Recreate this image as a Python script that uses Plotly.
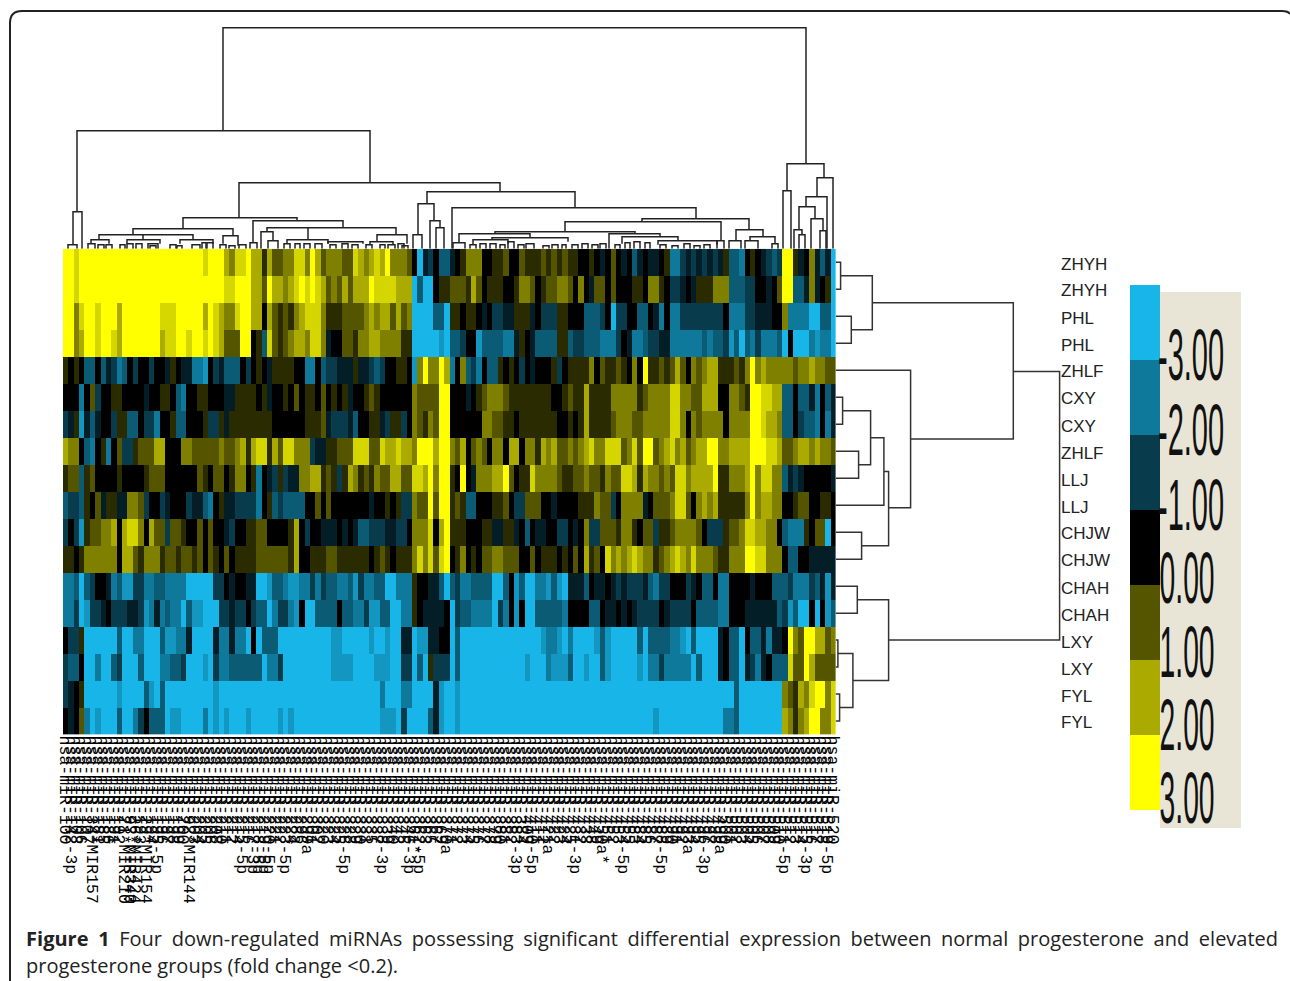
import plotly.graph_objects as go

# ---- expression values, one string per sample row; codes are half steps
code_values = {"0": 0, "1": .5, "2": 1, "3": 1.5, "4": 2, "5": 2.5, "6": 3,
               "a": -.5, "b": -1, "c": -1.5, "d": -2, "e": -2.5, "f": -3}
row_01 = "6656666666 6666666666 6666665666 4355644142 2335536423 3322543454 633320fab0 cca0133300 1120021112 1212110010 a020a0ca0a a01ddbabab aba1ccd010 abcb661a03 acaf"
row_02 = "6656666666 6666666666 6666666666 5566644264 4345656542 3242444655 55444fcff0 1122214201 1100133201 22332030a2 2020001103 310bba0a11 1333cccbb0 0a0266cca3 a01f"
row_03 = "6635665666 4666666655 5666664654 3356644042 1213455531 1122223434 42423ffffc cf110110a0 bbaa111a0b bb11000ccc b0fbb00cc0 ad0ddbbbbb bbb0dddbba aa003ddddf fccf"
row_04 = "6634665665 4666666645 5665665654 2226601c52 123443553a 0022133443 33311fffff efccb00ecc ccdda10acc cc11cbbccc dddb0addcb baaddddddc dccbecfcdb dddcf0fffd eddf"
row_05 = "1010cc0cab dc0b00b00a 10aadde0ba ccc0b010a1 11100dd0cb baaa1aabcb 00110e3633 64d03cbd0c c1010b0a00 01b0111130 2112103061 1212420323 4411121363 4333332334 3322"
row_06 = "000d02b001 10000a0011 0cd0011000 aa111101a0 0102011020 101a001210 0000032222 66000a0123 3321111111 1001211411 1133333123 3335533224 4400332166 5544cc0cca d0ca"
row_07 = "ba1eaca00b 11cc0bbd00 1cc0001bb1 a111111110 000001112a bbbac0011a b11b032132 6600000033 2211011111 1100101411 1123332233 3335530323 3330333366 5443cc0bcc d0da"
row_08 = "4330cd01d0 2bb1222440 0033222223 2234145514 255333baa1 1222555225 4454436664 6632402320 3304403314 3422323453 3555235266 2345342344 6633444466 6554223443 4332"
row_09 = "122c120000 1000012220 0000021022 013301d0ab 1baa334412 1b14312132 2442255463 661060a333 4462011533 3321122322 1322554143 3232553444 4611333463 5533caba00 000a"
row_10 = "cbbc102a11 aa332b00ba 000baacd01 aabbbbd01c bcccc00202 0000000a00 101bb32262 66121cc000 1120bb2220 0a00001113 22b03333a0 2223552034 3411111363 4433001220 0110"
row_11 = "b0be122334 045530422b 2210020200 ab00112200 00140b00aa a0a0accbbb aabb033350 4611100011 aa11a0c0aa 00bb0a03bb 2221331022 b112333320 bbb1223554 4330cddd10 22f0"
row_12 = "1101333333 0442133312 2122120210 2011112222 2214001112 2111111012 1011135352 5601301022 3322200201 1101020412 0534345433 1234543533 3211333665 53330cc00a aaaa"
row_13 = "ddcfcb00ad ceebbddccd dddfffffbb 0a00aaffec cdeeddbdbc cddcebddcc ffddd100aa cfcbddcccc ffc0ecffdd ecefaaac0a a0ababbbac dbb000ba0c c0dd0000a0 00cccbdddb caea"
row_14 = "ddbfebba0b bbaabedadc ddfceefffb babb0bccfd bbde0ffccc c0ccddbeec cffdd10aaa a0fbccdddd fbd0e0ffcc cccd0000cc 0aa0a0abbb b0abbbb0cc ccdd000aaa aaacbecff0 f0ec"
row_15 = "0bb1ffffff cffddfffce eddaffffad daddf0fccc ffffffffff eefffffeff effaafeeaa 00fcffffff fffffffffe ddefdffffe cefffffcfc cccddefcff ffa0ccf0cc adaa063266 4423"
row_16 = "bcc0ffdffc bfffcfffdd ccbfffefbd dccccccfdd bfffffffff eeeeffffee effbbfcf1b bbfcffffff ffffffefff deeecffeff cefffffefd dbdddddfcf ffa0ccfabd a0ccc52264 2222"
row_17 = "ba01ffffff effffcefcf ffffffffef ffffffffff ffffffffff fffffffffd fffddffffa effeffffff ffffffffff ffffffffff ffffffffff ffffffffff fffffcffff ffff321435 6635"
row_18 = "0a02dfefff cffdb0cccf eeffffdfef efffefffff efefffffff fffffffffe eefbffffca effeffffff ffffffffff ffffffffff ffffffffff efffffffff fffddcffff ffff431346 6335"
expression_rows = [row_01, row_02, row_03, row_04, row_05, row_06, row_07, row_08, row_09,
                   row_10, row_11, row_12, row_13, row_14, row_15, row_16, row_17, row_18]

sample_labels = ["ZHYH", "ZHYH", "PHL", "PHL", "ZHLF", "CXY", "CXY", "ZHLF", "LLJ", "LLJ",
                 "CHJW", "CHJW", "CHAH", "CHAH", "LXY", "LXY", "FYL", "FYL"]

# miRNA names along the bottom (most are overprinted and could only be estimated)
mirna_ids = [
 "100", "142-3p", "103", "106", "107", "34*MIR157", "181", "185", "186", "191",
 "192", "21*MIR210", "93*MIR340", "26*MIR424", "193", "29*MIR154", "194", "195-5p", "196", "197",
 "198", "199", "200", "92*MIR144", "203", "204", "205", "206", "208", "210",
 "211", "212", "214", "215-5p", "216", "217-3p", "218-5p", "219-5p", "220-5p", "221",
 "222", "223-5p", "224", "28a", "296", "299a", "301", "302", "320", "323",
 "324", "325", "326-5p", "328", "329", "330", "331", "335", "337", "338-3p",
 "339", "340", "342", "345", "346-3p", "361*", "362-5p", "363", "365", "367",
 "369", "370a", "371", "372", "373", "374", "375", "376", "377", "378",
 "379", "380", "381", "382", "383-3p", "384", "409", "410-5p", "411", "412",
 "421a", "422", "423", "424", "425", "431-3p", "432", "433", "448", "449",
 "450a*", "451", "452", "453", "454-5p", "455", "483", "484", "485", "486",
 "487", "488-5p", "489", "490", "491", "492", "493a", "494", "495", "496-3p",
 "497", "498", "499a", "500", "501", "502", "503", "504", "505", "506",
 "507", "508", "509", "510", "511-5p", "512", "513", "514", "515-3p", "516",
 "517", "518", "519-5p", "520",
]
mirna_prefix = "hsa-miR-"

# dendrogram over the columns: x left, x right, height of left leg, height of right leg, top
column_links = [
 (223,806,118,85,221),(77,370,37,66,118),(73,82,4,0,37),(68,77,0,0,4),(239,500,31,57,66),
 (183,297,20,28,31),(133,233,14,13,20),(99,193,9,9,14),(91,109,5,5,9),(143,143,9,9,14),
 (127,160,5,5,9),(180,213,5,5,9),(223,238,5,3,13),(253,343,6,21,28),(250,257,0,0,6),
 (267,396,17,14,21),(308,308,9,9,21),(261,273,0,8,17),(268,278,0,0,8),(287,328,5,5,9),
 (328,363,5,5,7),(377,407,7,5,14),(370,393,4,4,7),
 (427,575,45,41,57),(418,434,14,28,45),(413,422,0,0,14),(430,440,0,21,28),(436,444,0,0,21),
 (452,696,0,30,41),(642,749,27,19,30),(565,721,17,8,27),(717,724,0,0,8),(495,635,15,15,17),
 (459,530,6,11,15),(453,465,0,0,6),(492,568,9,7,11),(473,508,4,5,9),(609,660,0,12,15),
 (622,678,5,8,12),(658,717,4,4,8),(736,763,8,12,19),(729,741,0,0,8),(750,775,8,5,12),
 (745,758,0,0,8),(772,778,0,0,5),(787,824,58,71,85),(783,791,0,0,58),(817,833,52,0,71),
 (806,827,42,0,52),(799,815,19,30,42),(794,802,0,14,19),(799,805,0,0,14),(811,823,0,18,30),
 (820,826,0,0,18),
]
# small clusters just above the heat map: x left, x right, height
column_arcs = [
 (88,95,5),(98,104,4),(106,112,4),(120,125,4),(127,133,5),(136,142,5),(148,158,5),(150,156,3),
 (170,176,4),(177,182,3),(192,200,4),(202,206,6),(207,213,6),(220,226,4),(229,235,3),(239,246,4),
 (284,290,5),(295,300,5),(304,310,5),(315,322,5),(330,336,4),(342,348,5),(352,358,4),(366,372,4),
 (380,385,4),(388,395,4),(398,404,5),(402,408,3),
 (470,476,4),(480,486,5),(490,496,5),(500,505,4),(508,514,7),(518,524,4),(526,534,5),(543,549,3),
 (552,558,4),(562,566,4),(572,578,4),(582,588,5),(592,598,4),(600,606,5),(615,620,4),(625,630,6),
 (634,640,7),(645,650,6),(660,666,4),(672,678,3),(684,690,5),(694,700,3),(704,710,4),
]
# dendrogram beside the rows: row of upper child, row of lower child, upper leg, lower leg, distance
row_links = [
 (0,1,0,0,5),(2,3,0,0,15.7),(.5,2.5,5,15.7,36.7),(5,6,0,0,7),(7,8,0,0,23),(5.5,7.5,7,23,35),
 (6.5,9,35,0,48.3),(10,11,0,0,26),(7.75,10.5,48.3,26,53),(4,9.1,0,53,75),(12,13,0,0,21.7),
 (14,15,0,0,2.3),(16,17,0,0,4),(14.5,16.5,2.3,4,17.3),(12.5,15.5,21.7,17.3,53),
 (1.5,6.55,36.7,75,177.7),(4.05,14,177.7,53,224),
]

legend_levels = [-3, -2, -1, 0, 1, 2, 3]
legend_labels = ["-3.00", "-2.00", "-1.00", "0.00", "1.00", "2.00", "3.00"]
caption_line_1 = "<b>Figure 1</b> Four down-regulated miRNAs possessing significant differential expression between normal progesterone and elevated"
caption_line_2 = "progesterone groups (fold change &lt;0.2)."

# ---- decode
z = [[code_values[c] for c in r.replace(" ", "")] for r in expression_rows]
for i, r in enumerate(z):
    if len(r) != 144:
        raise ValueError(f"row {i+1} has {len(r)} cells")
if len(mirna_ids) != 144:
    raise ValueError(f"{len(mirna_ids)} names")

W, H = 1290, 981
def px(x): return x / W
def py(y): return 1 - y / H

LEFT, RIGHT, TOP, BOTTOM = 63, 835.6, 248.7, 734.6
DENDRO_TOP = 27
ROW_END = 1062
colorscale = [[0, "#17B5E8"], [.5, "#000000"], [1, "#FFFF00"]]
ink = "#222222"

fig = go.Figure()
columns = list(range(144))
fig.add_trace(go.Heatmap(z=z, x=columns, y=list(range(18)), colorscale=colorscale, zmin=-3, zmax=3,
                         showscale=False, hoverinfo="skip", xgap=0, ygap=0))

xs, ys = [], []
for xl, xr, hl, hr, top in column_links:
    xs += [xl, xl, xr, xr, None]
    ys += [hl, top, top, hr, None]
for xl, xr, top in column_arcs:
    xs += [xl, xl, xr, xr, None]
    ys += [0, top, top, 0, None]
fig.add_trace(go.Scatter(x=xs, y=ys, mode="lines", line=dict(color=ink, width=1.5), xaxis="x2", yaxis="y2",
                         hoverinfo="skip", showlegend=False))

xs, ys = [], []
for ru, rl, du, dl, dist in row_links:
    xs += [du, dist, dist, dl, None]
    ys += [ru, ru, rl, rl, None]
fig.add_trace(go.Scatter(x=xs, y=ys, mode="lines", line=dict(color="#333333", width=1.5), xaxis="x3", yaxis="y3",
                         hoverinfo="skip", showlegend=False))

fig.add_trace(go.Heatmap(z=[[v] for v in legend_levels], colorscale=colorscale, zmin=-3, zmax=3, showscale=False,
                         xaxis="x4", yaxis="y4", hoverinfo="skip"))

hidden = dict(visible=False, fixedrange=True)
fig.update_layout(
    width=W, height=H, margin=dict(l=0, r=0, t=0, b=0, autoexpand=False), showlegend=False,
    paper_bgcolor="white", plot_bgcolor="rgba(0,0,0,0)",
    xaxis=dict(domain=[px(LEFT), px(RIGHT)], range=[-.5, 143.5], tickmode="array", tickvals=columns,
               ticktext=[mirna_prefix + m for m in mirna_ids], tickangle=90, ticks="", showgrid=False,
               zeroline=False, showline=False, ticklabelstandoff=0,
               tickfont=dict(family="Liberation Mono", size=16.5, color="#000000")),
    yaxis=dict(domain=[py(BOTTOM), py(TOP)], range=[17.5, -.5], **hidden),
    xaxis2=dict(domain=[px(LEFT), px(RIGHT)], range=[LEFT, RIGHT], anchor="y2", **hidden),
    yaxis2=dict(domain=[py(TOP), py(DENDRO_TOP - 1)], range=[0, TOP - DENDRO_TOP + 1], anchor="x2", **hidden),
    xaxis3=dict(domain=[px(RIGHT), px(ROW_END)], range=[0, ROW_END - RIGHT], anchor="y3", **hidden),
    yaxis3=dict(domain=[py(BOTTOM), py(TOP)], range=[17.5, -.5], anchor="x3", **hidden),
    xaxis4=dict(domain=[px(1130), px(1160)], anchor="y4", **hidden),
    yaxis4=dict(domain=[py(810), py(285)], range=[6.5, -.5], anchor="x4", **hidden),
)

# panel and frame
fig.add_shape(type="rect", xref="paper", yref="paper", x0=px(1160), x1=px(1241), y0=py(828), y1=py(292),
              fillcolor="#E8E5D6", line_width=0, layer="below")
frame = (f"M {px(10)},{py(981)} L {px(10)},{py(23)} Q {px(10)},{py(11)} {px(22)},{py(11)} "
         f"L {px(1282)},{py(11)} Q {px(1288)},{py(11)} {px(1290)},{py(14)}")
fig.add_shape(type="path", xref="paper", yref="paper", path=frame, line=dict(color="#222222", width=2))

# row labels
for label, y in zip(sample_labels, [264, 291, 318, 345, 371, 398, 426, 453, 480, 507, 533, 560, 588, 615, 642, 669, 696, 722]):
    fig.add_annotation(text=label, x=px(1059), y=py(y), xref="paper", yref="paper", xanchor="left", yanchor="middle",
                       showarrow=False, font=dict(family="Liberation Sans", size=17, color="#222222"))
# legend labels
for label, y in zip(legend_labels, [355, 430, 505, 578, 652, 725, 798]):
    fig.add_annotation(text=label, x=px(1191 if label[0] == "-" else 1187), y=py(y), xref="paper", yref="paper",
                       xanchor="center", yanchor="middle", showarrow=False,
                       font=dict(family="Liberation Sans", size=72, color="#111111"))
# caption
fig.add_annotation(text=caption_line_1, x=px(652), y=py(938), xref="paper", yref="paper", xanchor="center",
                   yanchor="middle", showarrow=False, font=dict(family="Open Sans", size=20, color="#222222"))
fig.add_annotation(text=caption_line_2, x=px(24), y=py(965), xref="paper", yref="paper", xanchor="left",
                   yanchor="middle", showarrow=False, font=dict(family="Open Sans", size=20, color="#222222"))

post = """
document.body.style.margin = '0';
document.querySelectorAll('.annotation-text').forEach(function (t) {
  var s = t.textContent;
  if (/^-?\\d\\.00$/.test(s)) {
    t.setAttribute('textLength', s[0] === '-' ? 66 : 55);
    t.setAttribute('lengthAdjust', 'spacingAndGlyphs');
  } else if (s.indexOf('Figure 1') === 0) {
    var extra = (1252 - t.getComputedTextLength()) / (s.split(' ').length - 1);
    t.style.wordSpacing = extra + 'px';
  }
});
"""
fig.write_html("out.html", post_script=post, config=dict(displayModeBar=False))
